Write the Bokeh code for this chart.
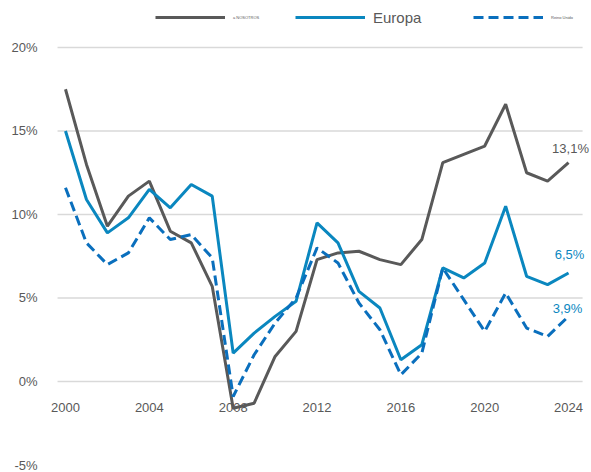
from bokeh.plotting import figure
from bokeh.models import (ColumnDataSource, FixedTicker, CustomJSTickFormatter, Legend,
                          LegendItem, Label, Range1d)
from bokeh.core.properties import value
from bokeh.embed import file_html
from bokeh.resources import INLINE

years = list(range(2000, 2025))
us = [17.5, 13.0, 9.3, 11.1, 12.0, 9.0, 8.3, 5.7, -1.6, -1.3, 1.5, 3.0, 7.3, 7.7, 7.8,
      7.3, 7.0, 8.5, 13.1, 13.6, 14.1, 16.6, 12.5, 12.0, 13.1]
europa = [15.0, 10.9, 8.9, 9.8, 11.5, 10.4, 11.8, 11.1, 1.7, 2.9, 3.9, 4.8, 9.5, 8.3, 5.4,
          4.4, 1.3, 2.2, 6.8, 6.2, 7.1, 10.5, 6.3, 5.8, 6.5]
uk = [11.6, 8.3, 7.0, 7.7, 9.8, 8.5, 8.8, 7.4, -0.9, 1.6, 3.5, 5.0, 8.0, 7.1, 4.7,
      3.1, 0.4, 1.7, 6.8, 4.9, 3.0, 5.3, 3.2, 2.7, 3.9]
series_names = ["a NOSOTROS", "Europa", "Reino Unido"]
end_labels = ["13,1%", "6,5%", "3,9%"]
y_ticks = [-5, 0, 5, 10, 15, 20]
grid_ticks = [0, 5, 10, 15, 20]
x_ticks = [2000, 2004, 2008, 2012, 2016, 2020, 2024]

GRAY = "#595959"
BLUE = "#0a87bf"
DBLUE = "#0a6fbd"
FONT = "Liberation Sans"

W, H = 591, 472
LEFT = 45
p = figure(width=W, height=H, output_backend="svg", toolbar_location=None,
           x_axis_location=None, min_border_left=LEFT, min_border_right=0,
           min_border_top=0, min_border_bottom=0)
p.x_range = Range1d(1999.046, 2025.095)
p.y_range = Range1d(-5.449, 22.814)
p.outline_line_color = None
p.background_fill_color = "white"
p.border_fill_color = "white"

yax = p.yaxis[0]
yax.ticker = FixedTicker(ticks=y_ticks)
yax.formatter = CustomJSTickFormatter(code="return tick + '%';")
yax.axis_line_color = None
yax.major_tick_line_color = None
yax.minor_tick_line_color = None
yax.major_tick_out = 0
yax.major_tick_in = 0
yax.major_label_standoff = 8
yax.major_label_text_font = FONT
yax.major_label_text_font_size = "13px"
yax.major_label_text_color = GRAY

p.xgrid.visible = False
p.ygrid.visible = False
# horizontal gridlines spanning the plotting area only
p.segment(x0=[1999.62] * len(grid_ticks), x1=[2024.67] * len(grid_ticks),
          y0=grid_ticks, y1=grid_ticks, line_color="#d9d9d9", line_width=1.5)

src = ColumnDataSource(dict(x=years, us=us, eu=europa, uk=uk))
r_us = p.line("x", "us", source=src, line_color=GRAY, line_width=3)
r_eu = p.line("x", "eu", source=src, line_color=BLUE, line_width=3)
r_uk = p.line("x", "uk", source=src, line_color=DBLUE, line_width=3, line_dash="10 5")

# year labels along the 0% line
tsrc = ColumnDataSource(dict(x=x_ticks, y=[0] * len(x_ticks), t=[str(v) for v in x_ticks]))
p.text("x", "y", text="t", source=tsrc, text_align="center", text_baseline="middle",
       y_offset=26, text_font=value(FONT), text_font_size="13px", text_color=GRAY)

# end labels
for val, txt, col, dx, dy in [(us[-1], end_labels[0], GRAY, 2, 14),
                               (europa[-1], end_labels[1], BLUE, 1, 18),
                               (uk[-1], end_labels[2], BLUE, -1, 8)]:
    p.add_layout(Label(x=years[-1], y=val, text=txt, x_offset=dx, y_offset=dy,
                       text_align="center", text_baseline="middle",
                       text_font=FONT, text_font_size="13px", text_color=col))

# legends at the top
for r, name, xloc, fs in [(r_us, series_names[0], 155 - LEFT, "4px"),
                          (r_eu, series_names[1], 295 - LEFT, "15px"),
                          (r_uk, series_names[2], 473 - LEFT, "4px")]:
    leg = Legend(items=[LegendItem(label=name, renderers=[r])],
                 location=(xloc, H - 27), orientation="horizontal",
                 padding=0, margin=0, spacing=0, glyph_width=70, glyph_height=20,
                 label_height=20, label_standoff=8, label_text_font=FONT,
                 label_text_font_size=fs, label_text_color=GRAY,
                 border_line_alpha=0, background_fill_alpha=0)
    p.add_layout(leg, "center")

open("out.html", "w").write(file_html(p, INLINE))
